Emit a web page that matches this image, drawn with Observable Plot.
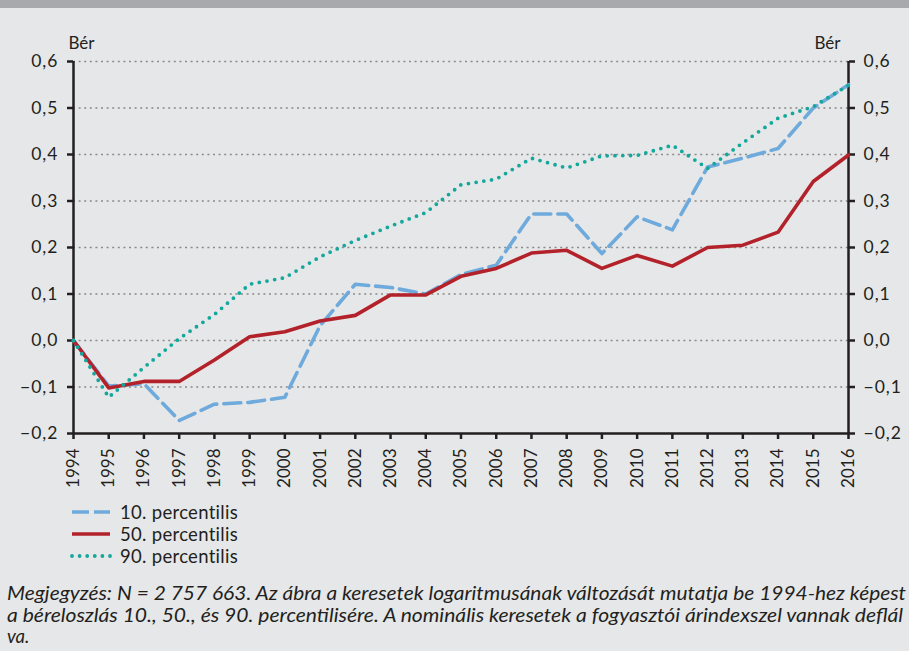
<!DOCTYPE html>
<html>
<head>
<meta charset="utf-8">
<script src="https://cdn.jsdelivr.net/npm/d3@7"></script>
<script src="https://cdn.jsdelivr.net/npm/@observablehq/plot@0.6"></script>
<style>
  html, body { margin:0; padding:0; }
  body { width:909px; height:651px; background:#e6e7e8; overflow:hidden; position:relative; font-family:Lato, sans-serif; color:#231f20; }
  #band { height:8px; background:#a7a9ac; }
  #chart { position:absolute; left:0; top:8px; }
  #chart svg g[aria-label="y-axis tick label"] { font-size:17.5px; letter-spacing:1px; }
  #chart svg g[aria-label="x-axis tick label"] { font-size:17px; }
  #legend { position:absolute; left:70px; top:501px; font-size:18.5px; line-height:22px; letter-spacing:0.3px; }
  #legend .row { display:flex; align-items:center; height:22px; }
  #legend svg { margin-right:8px; }
  #caption { position:absolute; left:7px; top:583px; font-size:18.5px; font-style:italic; line-height:21.5px; white-space:nowrap; }
  #caption div { transform-origin:0 50%; width:max-content; }
</style>
</head>
<body>
<div id="band"></div>
<div id="chart"></div>
<div id="legend"></div>
<div id="caption"></div>
<script>
const years = [1994,1995,1996,1997,1998,1999,2000,2001,2002,2003,2004,2005,2006,2007,2008,2009,2010,2011,2012,2013,2014,2015,2016];
const p10 = [0, -0.098, -0.093, -0.172, -0.137, -0.133, -0.122, 0.032, 0.121, 0.114, 0.100, 0.142, 0.162, 0.272, 0.272, 0.187, 0.266, 0.238, 0.373, 0.392, 0.413, 0.500, 0.550];
const p50 = [0, -0.102, -0.088, -0.088, -0.042, 0.008, 0.019, 0.042, 0.054, 0.098, 0.098, 0.138, 0.155, 0.188, 0.194, 0.155, 0.183, 0.160, 0.200, 0.205, 0.233, 0.342, 0.399];
const p90 = [0, -0.122, -0.058, 0.004, 0.056, 0.121, 0.135, 0.180, 0.215, 0.246, 0.275, 0.335, 0.347, 0.392, 0.371, 0.397, 0.398, 0.420, 0.370, 0.425, 0.478, 0.503, 0.549];
const seriesNames = ["10. percentilis", "50. percentilis", "90. percentilis"];
const yTicks = [-0.2, -0.1, 0, 0.1, 0.2, 0.3, 0.4, 0.5, 0.6];
const gridTicks = [-0.1, 0, 0.1, 0.2, 0.3, 0.4, 0.5, 0.6];
const axisLabel = "Bér";
const captionLines = [
  "Megjegyzés: N = 2 757 663. Az ábra a keresetek logaritmusának változását mutatja be 1994-hez képest",
  "a béreloszlás 10., 50., és 90. percentilisére. A nominális keresetek a fogyasztói árindexszel vannak deflál",
  "va."
];
const captionWidths = [899, 896, null];

const colors = { p10: "#6eaadb", p50: "#b3222a", p90: "#14a79b" };
const ink = "#231f20";
const fmt = d => d3.format(".1f")(d).replace(".", ",");

const rows10 = years.map((y, i) => ({ year: y, v: p10[i] }));
const rows50 = years.map((y, i) => ({ year: y, v: p50[i] }));
const rows90 = years.map((y, i) => ({ year: y, v: p90[i] }));

const chart = Plot.plot({
  width: 909,
  height: 487,
  marginTop: 53,
  marginBottom: 62,
  marginLeft: 73,
  marginRight: 61,
  style: { background: "transparent", fontFamily: "Lato, sans-serif", fontSize: "16px", color: ink },
  x: { domain: [1994, 2016] },
  y: { domain: [-0.2, 0.6] },
  marks: [
    Plot.ruleY(gridTicks, { stroke: "#8a8a8a", strokeDasharray: "2,3.6", strokeWidth: 1.3 }),
    Plot.axisX({ ticks: years, tickFormat: d => String(d), tickRotate: -90, tickSize: 6, tickPadding: 9, strokeWidth: 2.5, stroke: ink, fill: ink, label: null }),
    Plot.axisY({ anchor: "left", ticks: yTicks, tickFormat: fmt, tickSize: 6, tickPadding: 9, strokeWidth: 2.5, stroke: ink, fill: ink, label: null }),
    Plot.axisY({ anchor: "right", ticks: yTicks, tickFormat: fmt, tickSize: 6, tickPadding: 9, strokeWidth: 2.5, stroke: ink, fill: ink, label: null }),
    Plot.ruleX([1994, 2016], { stroke: ink, strokeWidth: 2.5 }),
    Plot.ruleY([-0.2], { stroke: ink, strokeWidth: 2.5 }),
    Plot.line(rows10, { x: "year", y: "v", stroke: colors.p10, strokeWidth: 3.6, strokeDasharray: "17,7" }),
    Plot.line(rows50, { x: "year", y: "v", stroke: colors.p50, strokeWidth: 3.6 }),
    Plot.line(rows90, { x: "year", y: "v", stroke: colors.p90, strokeWidth: 3.8, strokeDasharray: "0,7.8", strokeLinecap: "round" }),
    Plot.text([axisLabel], { frameAnchor: "top-left", textAnchor: "start", lineAnchor: "middle", dx: -5, dy: -18, fill: ink, fontSize: 17 }),
    Plot.text([axisLabel], { frameAnchor: "top-right", textAnchor: "end", lineAnchor: "middle", dx: -8, dy: -18, fill: ink, fontSize: 17 })
  ]
});
document.getElementById("chart").appendChild(chart);

// legend
const legendStyles = [
  { color: colors.p10, dash: "17,5", cap: "butt", w: 3.6 },
  { color: colors.p50, dash: null, cap: "butt", w: 3.6 },
  { color: colors.p90, dash: "0,7.6", cap: "round", w: 3.8 }
];
const legend = document.getElementById("legend");
seriesNames.forEach((name, i) => {
  const s = legendStyles[i];
  const row = document.createElement("div");
  row.className = "row";
  row.innerHTML = `<svg width="42" height="10"><line x1="2" x2="40" y1="5" y2="5" stroke="${s.color}" stroke-width="${s.w}" stroke-linecap="${s.cap}" ${s.dash ? `stroke-dasharray="${s.dash}"` : ""}/></svg><span>${name}</span>`;
  legend.appendChild(row);
});

const cap = document.getElementById("caption");
captionLines.forEach((l, i) => {
  const d = document.createElement("div");
  d.textContent = l;
  cap.appendChild(d);
  const target = captionWidths[i];
  if (target) {
    const w = d.getBoundingClientRect().width;
    d.style.transform = `scaleX(${target / w})`;
  }
});
</script>
</body>
</html>
